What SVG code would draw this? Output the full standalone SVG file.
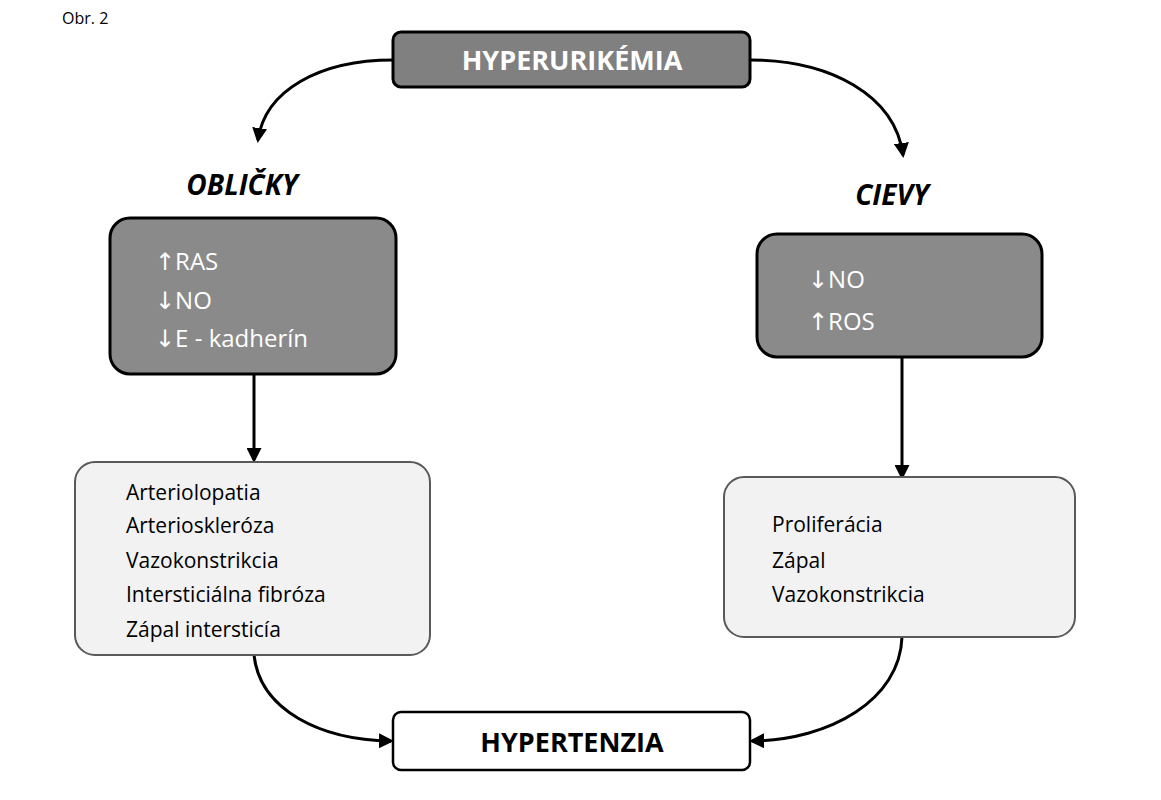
<svg xmlns="http://www.w3.org/2000/svg" width="1161" height="800" viewBox="0 0 1161 800">
<defs>
<marker id="ah" viewBox="0 0 10 10" refX="8" refY="5" markerWidth="5" markerHeight="5" orient="auto" markerUnits="strokeWidth">
<path d="M0,0 L10,5 L0,10 z" fill="#000"/>
</marker>
<style>
text{font-family:"Open Sans","Liberation Sans",sans-serif}
.ar{font-family:"DejaVu Sans",sans-serif}
.dark{fill:#8a8a8a;stroke:#000;stroke-width:3}
.light{fill:#f2f2f2;stroke:#595959;stroke-width:2}
.wt{fill:#fff;font-size:24px}
.bt{fill:#000;font-size:21px}
.hd{font-size:28px;font-weight:bold;font-style:italic;fill:#000}
.con{fill:none;stroke:#000;stroke-width:3;marker-end:url(#ah)}
</style>
</defs>
<rect width="1161" height="800" fill="#fff"/>
<text x="62" y="24" style="font-size:16px" fill="#000">Obr. 2</text>
<g id="connectors">
<path class="con" d="M393,60 C320,60 265,90 258,140"/>
<path class="con" d="M750,60 C830,60 895,95 903,155"/>
<path class="con" d="M254,374 L254,460"/>
<path class="con" d="M902,357 L902,477"/>
<path class="con" d="M254,655 C260,710 320,740 391,741"/>
<path class="con" d="M902,637 C900,700 830,740 752,741"/>
</g>
<g id="hyperurikemia">
<rect x="393" y="32" width="357" height="55" rx="8" fill="#808080" stroke="#000" stroke-width="3"/>
<text x="572" y="70" text-anchor="middle" style="font-size:27px;font-weight:bold" fill="#fff">HYPERURIKÉMIA</text>
</g>
<text id="oblicky" class="hd" x="242" y="195" text-anchor="middle">OBLIČKY</text>
<text id="cievy" class="hd" x="892" y="205" text-anchor="middle">CIEVY</text>
<g id="obl-box">
<rect class="dark" x="110" y="218" width="286" height="156" rx="20"/>
<text class="wt" x="155" y="270"><tspan class="ar">↑</tspan>RAS</text>
<text class="wt" x="155" y="309"><tspan class="ar">↓</tspan>NO</text>
<text class="wt" x="155" y="347"><tspan class="ar">↓</tspan>E - kadherín</text>
</g>
<g id="cie-box">
<rect class="dark" x="757" y="234" width="285" height="123" rx="20"/>
<text class="wt" x="808" y="288"><tspan class="ar">↓</tspan>NO</text>
<text class="wt" x="808" y="330"><tspan class="ar">↑</tspan>ROS</text>
</g>
<g id="obl-effects">
<rect class="light" x="75" y="462" width="355" height="193" rx="20"/>
<text class="bt" x="126" y="500">Arteriolopatia</text>
<text class="bt" x="126" y="533">Arterioskleróza</text>
<text class="bt" x="126" y="568">Vazokonstrikcia</text>
<text class="bt" x="126" y="602">Intersticiálna fibróza</text>
<text class="bt" x="126" y="637">Zápal intersticía</text>
</g>
<g id="cie-effects">
<rect class="light" x="724" y="477" width="351" height="160" rx="20"/>
<text class="bt" x="772" y="532">Proliferácia</text>
<text class="bt" x="772" y="568">Zápal</text>
<text class="bt" x="772" y="602">Vazokonstrikcia</text>
</g>
<g id="hypertenzia">
<rect x="393" y="712" width="357" height="58" rx="8" fill="#fff" stroke="#000" stroke-width="2.5"/>
<text x="572" y="752" text-anchor="middle" style="font-size:27px;font-weight:bold" fill="#000">HYPERTENZIA</text>
</g>
</svg>
